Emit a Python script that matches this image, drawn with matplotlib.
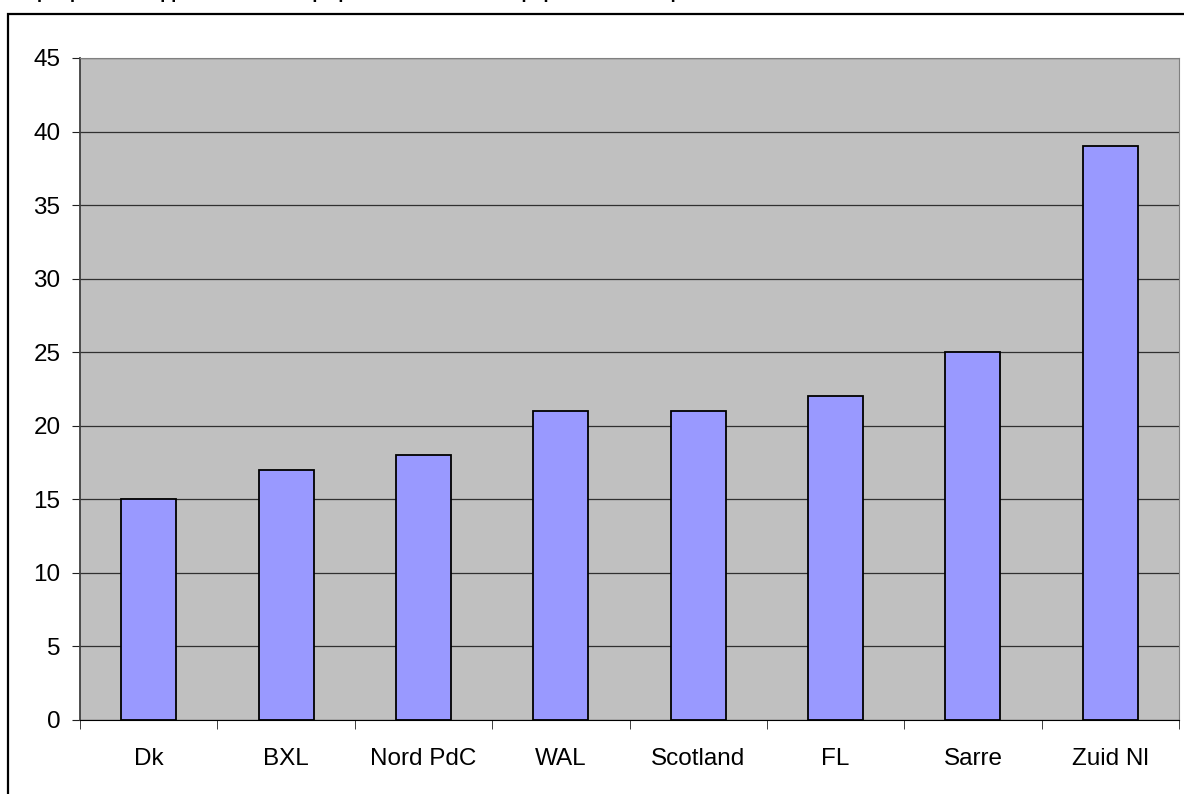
import numpy as np
import matplotlib.pyplot as plt
from matplotlib.patches import Rectangle

plt.rcParams["font.family"] = ["Liberation Sans", "DejaVu Sans"]

regions = ["Dk", "BXL", "Nord PdC", "WAL", "Scotland", "FL", "Sarre", "Zuid Nl"]
values = [15, 17, 18, 21, 21, 22, 25, 39]
y_ticks = [0, 5, 10, 15, 20, 25, 30, 35, 40, 45]

fig = plt.figure(figsize=(11.84, 7.94), dpi=100)
ax = fig.add_axes([80 / 1184, 1 - 720 / 794, 1099 / 1184, 662 / 794])

x = np.arange(len(regions))
ax.set_facecolor("#C0C0C0")
ax.bar(x, values, width=0.4, color="#9999FF", edgecolor="black", linewidth=1.3, zorder=3)

ax.set_xlim(-0.5, len(regions) - 0.5)
ax.set_ylim(0, 45)
ax.set_yticks(y_ticks)
ax.yaxis.grid(True, color="#303030", linewidth=0.9, zorder=1)
ax.set_axisbelow(True)

# category labels centred, ticks on the category boundaries
ax.set_xticks(x)
ax.set_xticklabels(regions, fontsize=17.5)
ax.tick_params(axis="x", length=0, pad=20)
ax.set_xticks(np.arange(-0.5, len(regions)), minor=True)
ax.tick_params(axis="x", which="minor", length=6.5, color="#202020")
ax.tick_params(axis="y", labelsize=17.5, length=6, pad=8, color="#202020")

for side in ["top", "right"]:
    ax.spines[side].set_color("#808080")
ax.spines["left"].set_color("#404040")
ax.spines["left"].set_linewidth(1.3)
ax.spines["bottom"].set_color("black")

# outer chart border
fig.patches.append(Rectangle((8 / 1184, -0.05), 1.2, (794 - 14) / 794 + 0.05,
                             transform=fig.transFigure, fill=False,
                             edgecolor="black", linewidth=1.6))

# title sits mostly above the top edge, as in the cropped original
fig.text(0.005, 1 + 0.0085, "Graphique 14 : Rapport entre le temps partiel masculin et la population en emploi",
         fontsize=13, fontweight="bold", va="center", ha="left")

fig.savefig("out.png", dpi=100)
